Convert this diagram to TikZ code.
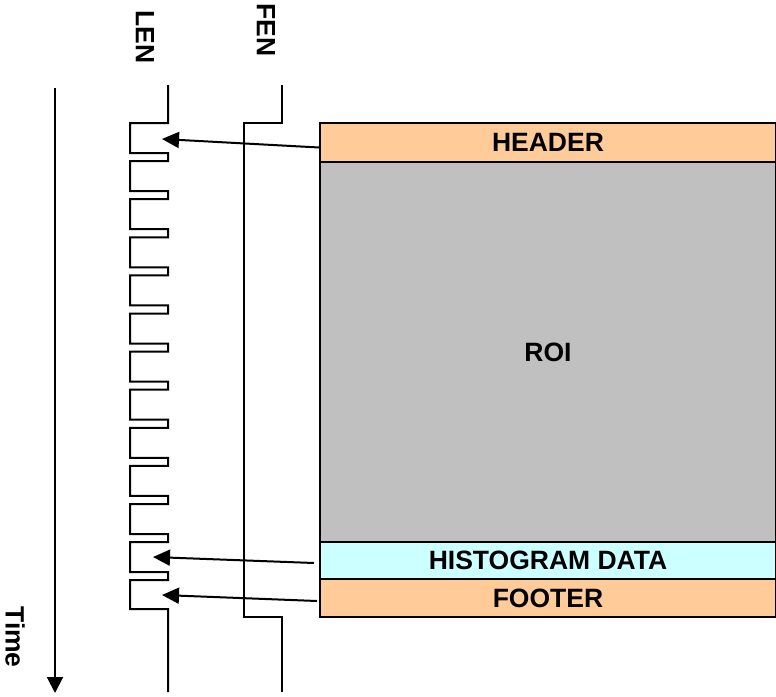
\documentclass[tikz,border=0pt]{standalone}
\usepackage{fontspec}
\setmainfont{Liberation Sans}
\usetikzlibrary{arrows.meta}
\definecolor{peach}{HTML}{FFCC99}
\definecolor{roigray}{HTML}{C0C0C0}
\definecolor{histcyan}{HTML}{CCFFFF}
\tikzset{
  lbl/.style={font=\fontsize{26.5}{30}\selectfont\bfseries, inner sep=0pt},
  fieldbox/.style={draw=black, line width=2pt, minimum width=456pt, inner sep=0pt, lbl},
  wave/.style={line width=2pt, line join=miter},
  ptr/.style={line width=2pt, -{Triangle[length=17pt,width=16pt]}},
  timearr/.style={line width=2pt, -{Triangle[length=16pt,width=16pt]}}
}
\begin{document}
\begin{tikzpicture}[x=1pt,y=-1pt]
\useasboundingbox (0,0) rectangle (776,696);
% boxes
\node[fieldbox, fill=roigray, minimum height=380pt] (roi) at (548,352) {ROI};
\node[fieldbox, fill=peach, minimum height=39pt] (header) at (548,142.5) {HEADER};
\node[fieldbox, fill=histcyan, minimum height=37pt] (hist) at (548,560.5) {HISTOGRAM DATA};
\node[fieldbox, fill=peach, minimum height=38pt] (footer) at (548,598) {FOOTER};
% labels
\node[lbl, rotate=-90] (len) at (145,37) {LEN};
\node[lbl, rotate=-90] (fen) at (266,30) {FEN};
\node[lbl, rotate=-90] (time) at (15,637) {Time};
% LEN waveform
\draw[wave] (168,85) -- (168,123)
  \foreach \k in {0,...,11} { -- (130,{123+38.1*\k}) -- (130,{153+38.1*\k}) -- (168,{153+38.1*\k}) -- (168,{161.1+38.1*\k}) }
  -- (130,580.2) -- (130,609) -- (168,609) -- (168,692);
% FEN waveform
\draw[wave] (282,85) -- (282,123) -- (244,123) -- (244,617) -- (282,617) -- (282,692);
% time axis
\coordinate (ttop) at (55,88);
\coordinate (tbot) at (55,693);
\draw[timearr] (ttop) -- (tbot);
% arrows to LEN
\coordinate (lenH) at (162,139);
\coordinate (lenS) at (153,557);
\coordinate (lenF) at (162,595);
\draw[ptr] ([yshift=-5pt]header.west) -- (lenH);
\draw[ptr] ([xshift=-5pt,yshift=-2.5pt]hist.west) -- (lenS);
\draw[ptr] ([xshift=-2pt,yshift=-3pt]footer.west) -- (lenF);
\end{tikzpicture}
\end{document}
